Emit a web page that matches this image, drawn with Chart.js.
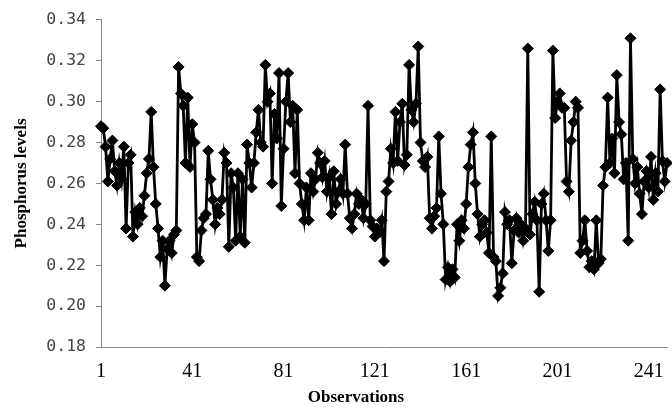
<!DOCTYPE html>
<html>
<head>
<meta charset="utf-8">
<script src="https://cdn.jsdelivr.net/npm/chart.js@4"></script>
<style>
  html, body { margin: 0; padding: 0; background: #fff; }
  #wrap { width: 672px; height: 410px; overflow: hidden; }
  #wrap div { width: 680px; height: 410px; }
</style>
</head>
<body>
<div id="wrap"><div><canvas id="myChart" width="680" height="410"></canvas></div></div>
<script>
var phosphorus = [
  0.288, 0.287, 0.278, 0.261, 0.272, 0.281, 0.266, 0.259, 0.270, 0.262,
  0.278, 0.238, 0.270, 0.274, 0.234, 0.246, 0.240, 0.248, 0.244, 0.254,
  0.265, 0.272, 0.295, 0.268, 0.250, 0.238, 0.224, 0.232, 0.210, 0.228,
  0.232, 0.226, 0.235, 0.237, 0.317, 0.304, 0.298, 0.270, 0.302, 0.268,
  0.289, 0.280, 0.224, 0.222, 0.237, 0.243, 0.245, 0.276, 0.262, 0.252,
  0.240, 0.248, 0.245, 0.252, 0.275, 0.270, 0.229, 0.265, 0.258, 0.232,
  0.265, 0.234, 0.262, 0.231, 0.279, 0.270, 0.258, 0.270, 0.285, 0.296,
  0.280, 0.278, 0.318, 0.300, 0.304, 0.260, 0.294, 0.282, 0.314, 0.249,
  0.277, 0.300, 0.314, 0.290, 0.298, 0.265, 0.296, 0.260, 0.250, 0.242,
  0.258, 0.242, 0.265, 0.256, 0.262, 0.275, 0.270, 0.263, 0.271, 0.256,
  0.263, 0.245, 0.266, 0.250, 0.256, 0.262, 0.255, 0.279, 0.255, 0.243,
  0.238, 0.245, 0.255, 0.250, 0.252, 0.243, 0.250, 0.298, 0.242, 0.239,
  0.234, 0.238, 0.236, 0.242, 0.222, 0.256, 0.261, 0.277, 0.270, 0.295,
  0.271, 0.290, 0.299, 0.269, 0.274, 0.318, 0.296, 0.290, 0.299, 0.327,
  0.280, 0.271, 0.268, 0.273, 0.243, 0.238, 0.244, 0.248, 0.283, 0.255,
  0.240, 0.213, 0.219, 0.212, 0.218, 0.214, 0.240, 0.232, 0.242, 0.238,
  0.250, 0.268, 0.279, 0.285, 0.260, 0.245, 0.234, 0.240, 0.242, 0.236,
  0.226, 0.283, 0.224, 0.222, 0.205, 0.209, 0.216, 0.246, 0.240, 0.242,
  0.221, 0.237, 0.243, 0.236, 0.240, 0.232, 0.238, 0.326, 0.235, 0.245,
  0.251, 0.242, 0.207, 0.250, 0.255, 0.242, 0.227, 0.242, 0.325, 0.292,
  0.300, 0.304, 0.297, 0.297, 0.261, 0.256, 0.281, 0.290, 0.300, 0.297,
  0.226, 0.232, 0.242, 0.227, 0.219, 0.222, 0.218, 0.242, 0.221, 0.223,
  0.259, 0.268, 0.302, 0.270, 0.282, 0.265, 0.313, 0.290, 0.284, 0.262,
  0.270, 0.232, 0.331, 0.272, 0.260, 0.268, 0.255, 0.245, 0.261, 0.266,
  0.258, 0.273, 0.252, 0.265, 0.256, 0.306, 0.271, 0.261, 0.270
];
var observations = phosphorus.map((v, i) => String(i + 1));
var shownTicks = ["1", "41", "81", "121", "161", "201", "241"];
var yTicks = [0.18, 0.20, 0.22, 0.24, 0.26, 0.28, 0.30, 0.32, 0.34];

// x axis title sits left of the plot centre in the original, so draw it by hand
const xTitle = {
  id: 'xTitle',
  afterDraw(chart) {
    const ctx = chart.ctx;
    ctx.save();
    ctx.font = 'bold 17px "Liberation Serif"';
    ctx.fillStyle = '#000';
    ctx.textAlign = 'center';
    ctx.textBaseline = 'middle';
    ctx.fillText('Observations', 356, 398);
    ctx.restore();
  }
};

new Chart("myChart", {
  type: "line",
  data: {
    labels: observations,
    datasets: [{
      data: phosphorus,
      borderColor: "#000",
      borderWidth: 2.8,
      backgroundColor: "#000",
      pointStyle: "rectRot",
      pointRadius: 5.5,
      pointBorderWidth: 1,
      pointBackgroundColor: "#000",
      pointBorderColor: "#000",
      tension: 0
    }]
  },
  options: {
    responsive: false,
    animation: false,
    layout: { padding: { top: 17, right: 7, left: 0, bottom: 0 } },
    plugins: {
      legend: { display: false },
      tooltip: { enabled: false }
    },
    scales: {
      x: {
        grid: { display: false, drawTicks: false },
        border: { display: true, color: "#888", width: 1 },
        ticks: {
          autoSkip: false,
          maxRotation: 0,
          padding: 13,
          color: "#000",
          font: { family: "Liberation Serif", size: 20 },
          callback: function (v, i) {
            var lab = observations[i];
            return shownTicks.includes(lab) ? lab : "";
          }
        },
        afterFit: function (s) { s.height = 63; }
      },
      y: {
        min: yTicks[0],
        max: yTicks[yTicks.length - 1],
        grid: { drawOnChartArea: false, drawTicks: true, tickLength: 5, color: "#888" },
        border: { display: true, color: "#888", width: 1 },
        ticks: {
          stepSize: 0.02,
          padding: 10,
          color: "#444",
          font: { family: "DejaVu Sans Mono", size: 16.5 },
          callback: function (v) { return v.toFixed(2); }
        },
        title: {
          display: true,
          text: "Phosphorus levels",
          color: "#000",
          font: { family: "Liberation Serif", size: 17, weight: "bold" },
          padding: { top: 11, bottom: 0 }
        },
        afterFit: function (s) { s.width = 101; }
      }
    }
  },
  plugins: [xTitle]
});
</script>
</body>
</html>
